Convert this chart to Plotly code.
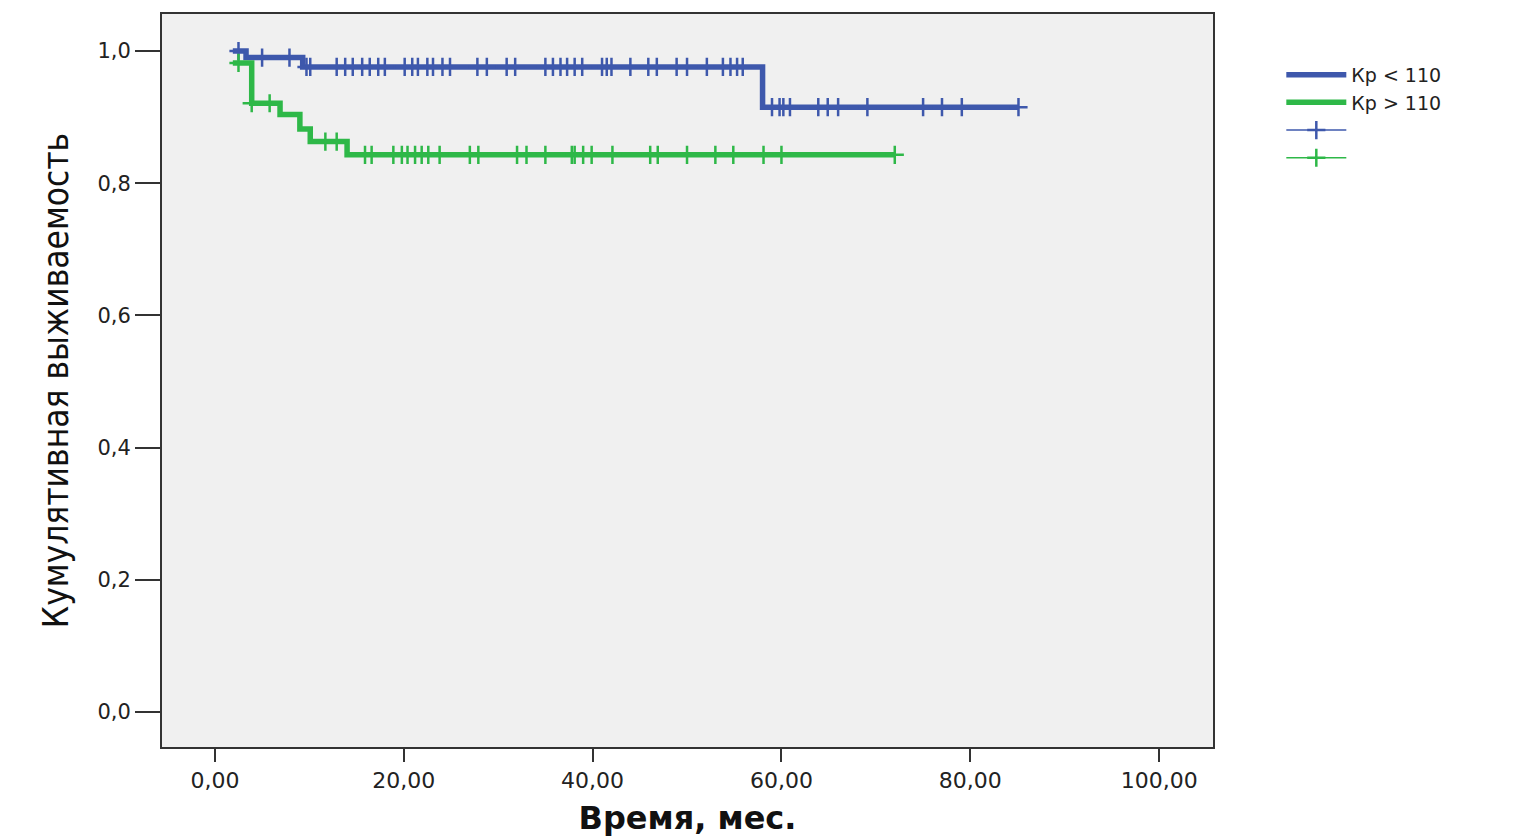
import plotly.graph_objects as go

# ---- data ----
blue_name = "Кр < 110"
green_name = "Кр > 110"

blue_event_t = [1.9, 3.3, 9.3, 58.0]
blue_surv = [1.0, 0.990, 0.976, 0.915]
blue_end = 85.1

green_event_t = [1.9, 3.9, 6.9, 9.0, 10.1, 14.0]
green_surv = [0.982, 0.921, 0.904, 0.882, 0.863, 0.843]
green_end = 72.0

blue_censor = [2.5, 5.0, 7.9, 9.7, 10.1, 12.9, 13.8, 14.6, 15.6, 16.4, 17.3, 18.0,
               20.1, 20.9, 21.5, 22.5, 23.1, 24.1, 24.9, 27.8, 28.8, 30.9, 31.8,
               35.0, 35.8, 36.6, 37.3, 38.1, 38.9, 41.0, 41.5, 42.0, 44.0, 45.9,
               46.8, 48.9, 50.0, 52.1, 53.8, 54.6, 55.3, 55.9, 59.0, 59.8, 60.2,
               60.9, 63.9, 64.9, 66.0, 69.1, 75.0, 77.0, 79.1, 85.1]
green_censor = [2.5, 3.9, 5.8, 11.7, 12.9, 15.9, 16.6, 18.9, 19.8, 20.4, 21.2, 21.9,
                22.6, 23.8, 27.0, 27.9, 32.0, 33.0, 35.0, 37.8, 38.1, 39.0, 39.9,
                42.1, 46.1, 46.9, 50.0, 53.0, 54.9, 58.1, 60.0, 72.0]

x_ticks = [0, 20, 40, 60, 80, 100]
y_ticks = [0.0, 0.2, 0.4, 0.6, 0.8, 1.0]

BLUE = "#3E58AC"
GREEN = "#2EB848"


def step_value(t, times, surv):
    v = surv[0]
    for tt, s in zip(times, surv):
        if tt <= t:
            v = s
    return v


def censor_xy(cens, times, surv):
    xs, ys = [], []
    for t in cens:
        xs += [t, None]
        ys += [step_value(t, times, surv), None]
    return xs, ys


fig = go.Figure()

fig.add_trace(go.Scatter(
    x=blue_event_t + [blue_end], y=blue_surv + [blue_surv[-1]],
    mode="lines", line=dict(color=BLUE, width=5.5, shape="hv"), name=blue_name))
fig.add_trace(go.Scatter(
    x=green_event_t + [green_end], y=green_surv + [green_surv[-1]],
    mode="lines", line=dict(color=GREEN, width=5.5, shape="hv"), name=green_name))

bx, by = censor_xy(blue_censor, blue_event_t, blue_surv)
gx, gy = censor_xy(green_censor, green_event_t, green_surv)
fig.add_trace(go.Scatter(
    x=bx, y=by, mode="lines+markers", connectgaps=False, name=" ",
    line=dict(color=BLUE, width=1.5),
    marker=dict(symbol="cross-thin", size=13, line=dict(color=BLUE, width=2.5))))
fig.add_trace(go.Scatter(
    x=gx, y=gy, mode="lines+markers", connectgaps=False, name=" ",
    line=dict(color=GREEN, width=1.5),
    marker=dict(symbol="cross-thin", size=13, line=dict(color=GREEN, width=2.5))))

fig.update_layout(
    width=1524, height=831,
    margin=dict(l=154, r=319, t=4, b=92),
    paper_bgcolor="white",
    plot_bgcolor="#F0F0F0",
    separators=", ",
    showlegend=True,
    legend=dict(x=1.065, y=0.943, xanchor="left", yanchor="top",
                font=dict(family="DejaVu Sans", size=19, color="#222"),
                bgcolor="rgba(0,0,0,0)", tracegroupgap=0, itemwidth=60),
    xaxis=dict(range=[-5.6, 105.7], tickvals=x_ticks, tickformat=".2f",
               ticks="outside", ticklen=13, tickwidth=2, tickcolor="#333",
               showgrid=False, zeroline=False,
               showline=True, linecolor="#333", linewidth=2, mirror=True,
               tickfont=dict(family="DejaVu Sans", size=22, color="#222"),
               title=dict(text="<b>Время, мес.</b>", standoff=14,
                          font=dict(family="DejaVu Sans", size=32, color="#111"))),
    yaxis=dict(range=[-0.053, 1.056], tickvals=y_ticks, tickformat=".1f",
               ticks="outside", ticklen=25, tickwidth=2, tickcolor="#333",
               showgrid=False, zeroline=False,
               showline=True, linecolor="#333", linewidth=2, mirror=True,
               tickfont=dict(family="DejaVu Sans", size=21, color="#222"),
               title=dict(text="Кумулятивная выживаемость", standoff=18,
                          font=dict(family="DejaVu Sans Condensed, DejaVu Sans",
                                    size=35, color="#111"))),
)

fig.write_html("out.html")
